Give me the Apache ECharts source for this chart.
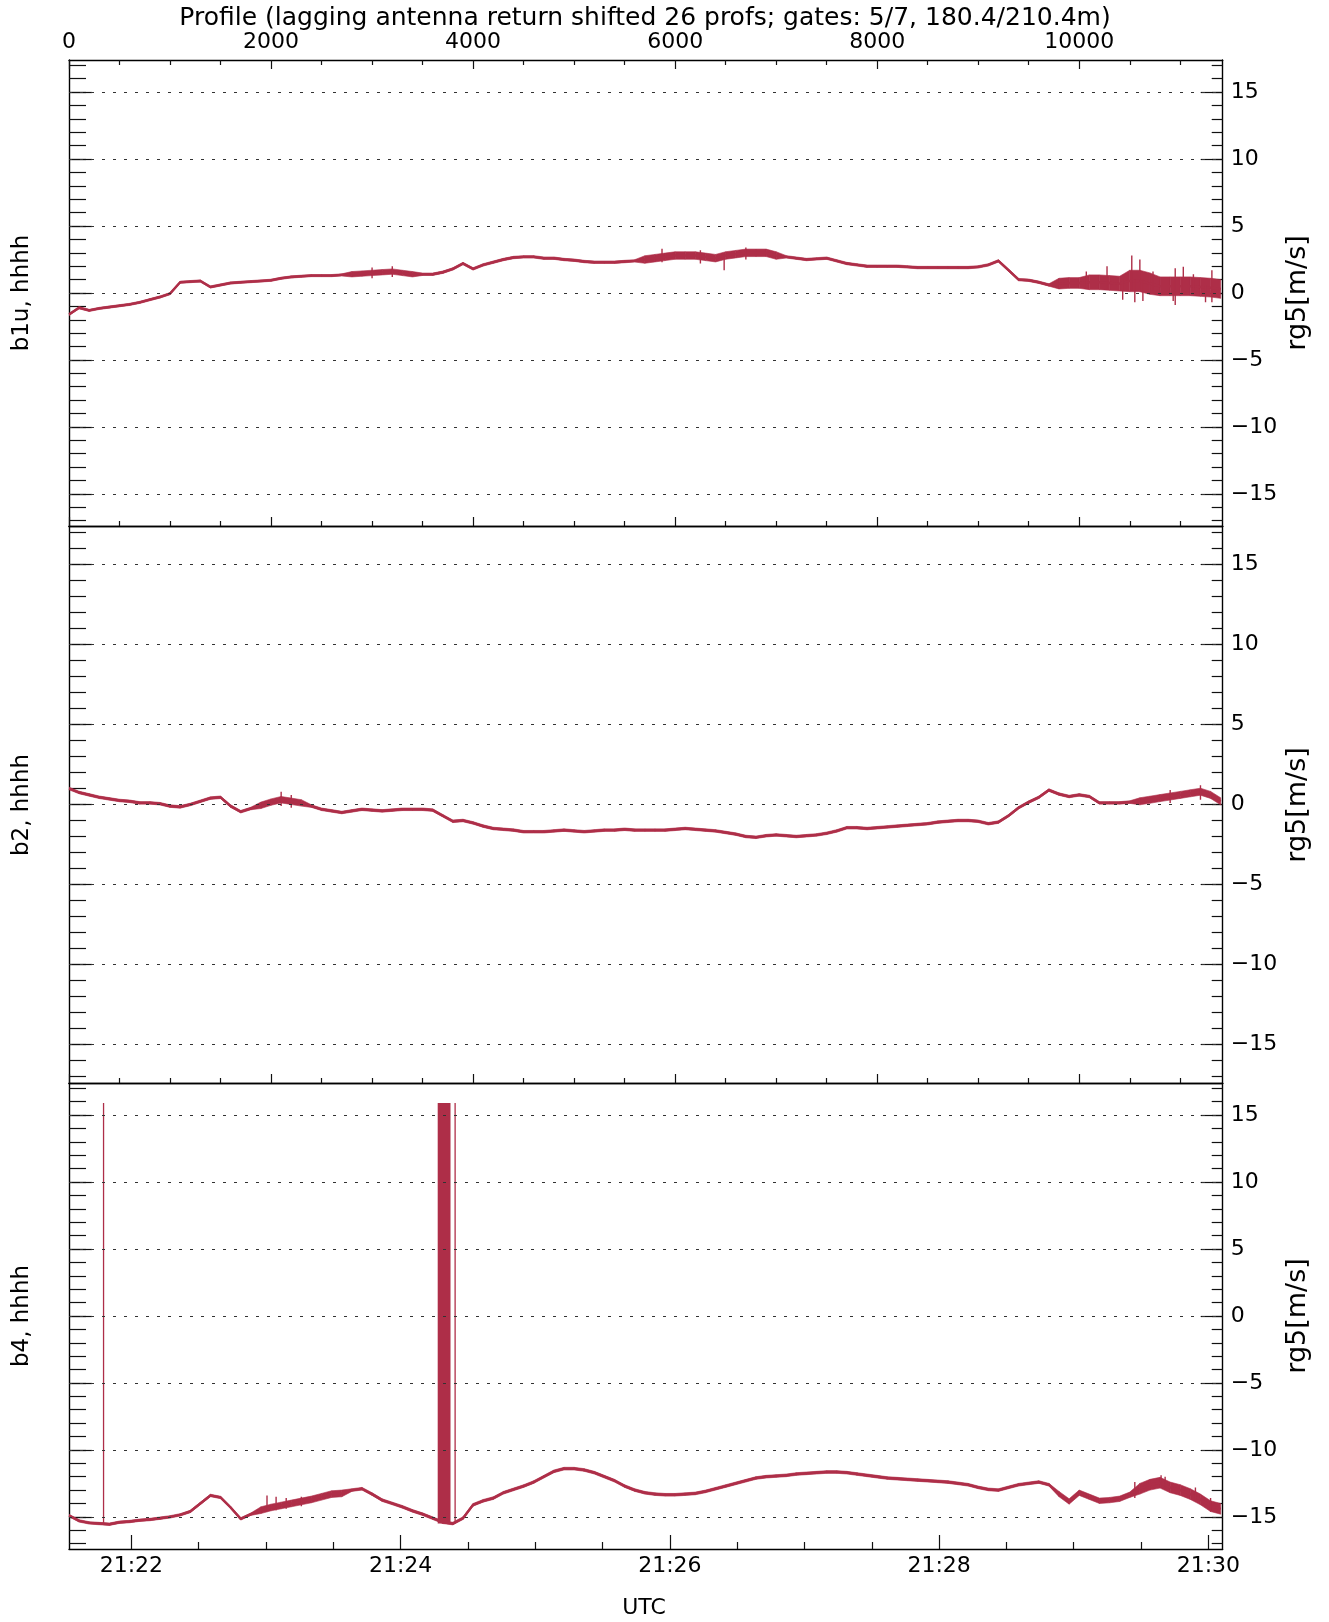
<!DOCTYPE html>
<html><head><meta charset="utf-8">
<script src="https://cdn.jsdelivr.net/npm/echarts@6/dist/echarts.min.js"></script>
<style>html,body{margin:0;padding:0;background:#fff}#c{width:1329px;height:1622px}</style>
</head><body><div id="c"></div>
<script>
const profileStep = 100;
const b1uMid = [
 -1.6,-1.1,-1.3,-1.15,-1.05,-0.95,-0.85,-0.7,-0.5,-0.3,
 -0.05,0.8,0.85,0.9,0.45,0.6,0.75,0.8,0.85,0.9,
 0.95,1.1,1.2,1.25,1.3,1.3,1.3,1.35,1.4,1.45,
 1.5,1.55,1.6,1.5,1.4,1.4,1.4,1.55,1.8,2.2,
 1.8,2.1,2.3,2.5,2.65,2.7,2.7,2.6,2.6,2.5,
 2.45,2.35,2.3,2.3,2.3,2.35,2.4,2.5,2.6,2.7,
 2.8,2.8,2.8,2.7,2.6,2.8,2.9,3.0,3.0,3.0,
 2.8,2.7,2.6,2.5,2.55,2.6,2.4,2.2,2.1,2.0,
 2.0,2.0,2.0,1.95,1.9,1.9,1.9,1.9,1.9,1.9,
 1.95,2.1,2.4,1.7,1.0,0.95,0.8,0.6,0.7,0.75,
 0.75,0.8,0.8,0.75,0.7,0.9,0.9,0.7,0.5,0.5,
 0.5,0.5,0.45,0.4,0.3];
const b2Mid = [
 1.0,0.75,0.6,0.45,0.35,0.25,0.2,0.1,0.1,0.05,
 -0.1,-0.15,0.0,0.2,0.4,0.45,-0.1,-0.45,-0.25,-0.05,
 0.15,0.3,0.2,0.1,-0.1,-0.3,-0.4,-0.5,-0.4,-0.3,
 -0.35,-0.4,-0.35,-0.3,-0.3,-0.3,-0.35,-0.7,-1.05,-1.0,
 -1.15,-1.35,-1.5,-1.55,-1.6,-1.7,-1.7,-1.7,-1.65,-1.6,
 -1.65,-1.7,-1.65,-1.6,-1.6,-1.55,-1.6,-1.6,-1.6,-1.6,
 -1.55,-1.5,-1.55,-1.6,-1.65,-1.75,-1.85,-2.0,-2.05,-1.95,
 -1.9,-1.95,-2.0,-1.95,-1.9,-1.8,-1.65,-1.45,-1.45,-1.5,
 -1.45,-1.4,-1.35,-1.3,-1.25,-1.2,-1.1,-1.05,-1.0,-1.0,
 -1.05,-1.2,-1.1,-0.7,-0.2,0.15,0.45,0.9,0.65,0.5,
 0.6,0.5,0.1,0.1,0.1,0.15,0.2,0.3,0.4,0.5,
 0.6,0.7,0.8,0.6,0.2];
const b4Mid = [
 -14.9,-15.3,-15.45,-15.5,-15.55,-15.4,-15.35,-15.25,-15.2,-15.1,
 -15.0,-14.85,-14.6,-14.0,-13.4,-13.55,-14.3,-15.15,-14.8,-14.5,
 -14.3,-14.15,-14.0,-13.85,-13.7,-13.5,-13.3,-13.25,-13.0,-12.9,
 -13.3,-13.75,-14.0,-14.25,-14.55,-14.8,-15.1,-15.4,-15.5,-15.1,
 -14.1,-13.8,-13.6,-13.2,-12.95,-12.7,-12.4,-12.0,-11.6,-11.4,
 -11.4,-11.5,-11.7,-12.0,-12.3,-12.7,-13.0,-13.2,-13.3,-13.35,
 -13.35,-13.3,-13.25,-13.1,-12.9,-12.7,-12.5,-12.3,-12.1,-12.0,
 -11.95,-11.9,-11.8,-11.75,-11.7,-11.65,-11.65,-11.7,-11.8,-11.9,
 -12.0,-12.1,-12.15,-12.2,-12.25,-12.3,-12.35,-12.4,-12.5,-12.6,
 -12.8,-12.95,-13.0,-12.8,-12.6,-12.5,-12.4,-12.6,-13.3,-13.85,
 -13.2,-13.5,-13.8,-13.75,-13.65,-13.35,-12.9,-12.6,-12.45,-12.8,
 -13.0,-13.3,-13.7,-14.2,-14.4];
// half-width of the noise band: [fromProfile, toProfile, halfWidth m/s]
const b1uNoise = [[0,2700,0.08],[2800,3400,0.2],[3500,5600,0.09],[5700,7000,0.28],[7100,9700,0.09],[9800,10000,0.4],[10100,10400,0.55],[10500,10700,0.8],[10800,11400,0.7]];
const b2Noise  = [[0,1800,0.08],[1900,2300,0.2],[2400,10500,0.08],[10600,11400,0.22]];
const b4Noise  = [[0,1800,0.09],[1900,2700,0.25],[2800,9700,0.1],[9800,10500,0.2],[10600,11400,0.4]];
// isolated noise excursions: [profile, low, high]
const b1uSpikes = [[3000,1.1,1.9],[3200,1.2,2.0],[5870,2.3,3.3],[6250,2.2,3.2],[6485,1.7,2.9],[6700,2.5,3.4],
  [10070,0.3,1.6],[10275,0.3,2.0],[10430,-0.5,1.0],[10520,0.2,2.8],[10550,-0.7,1.0],[10600,0.2,2.5],[10630,-0.6,1.0],
  [10730,0.2,1.6],[10930,-0.6,0.9],[10950,-0.9,1.84],[11030,0.2,1.96],[11130,0.2,1.4],[11250,-0.7,0.6],[11313,-0.7,1.7]];
const b2Spikes  = [[2100,-0.1,0.8],[2200,-0.2,0.6],[10900,0.1,0.9],[11200,0.3,1.2]];
const b4Spikes  = [[1960,-14.6,-13.4],[2050,-14.5,-13.5],[2150,-14.4,-13.6],[2300,-14.2,-13.5],
  [10550,-13.6,-12.4],[10810,-12.8,-11.9],[10850,-12.9,-12.0],[11150,-13.8,-12.8],[11300,-14.6,-13.6]];
// b4 outliers (profile indices of the spikes) and their extent
const b4SpikeProfiles = [342,3656,3659,3662,3665,3668,3671,3674,3677,3680,3683,3686,3689,3695,3698,3701,3704,3707,3710,3713,3716,3719,3722,3725,3728,3731,3734,3737,3740,3743,3746,3749,3752,3755,3758,3761,3764,3767,3770,3822];
const b4SpikeTop = 15.9, b4SpikeBase = -15.5;

const panelNames = ['b1u, hhhh','b2, hhhh','b4, hhhh'];
const titleText = 'Profile (lagging antenna return shifted 26 profs; gates: 5/7, 180.4/210.4m)';
const profileMax = 11420;
const profileTicks = [0,2000,4000,6000,8000,10000];
const profileMinorTicks = [500,1000,1500,2500,3000,3500,4500,5000,5500,6500,7000,7500,8500,9000,9500,10500,11000];
const timeMin = 1292.2, timeMax = 1806.4;             // seconds after 21:00 UTC
const timeTicks = [1320,1440,1560,1680,1800];
const timeMinorTicks = [1350,1380,1410,1470,1500,1530,1590,1620,1650,1710,1740,1770];
const yLabelTicks = [-15,-10,-5,0,5,10,15];
const yMinorTicks = [-17,-16,-15,-14,-13,-12,-11,-10,-9,-8,-7,-6,-5,-4,-3,-2,-1,0,1,2,3,4,5,6,7,8,9,10,11,12,13,14,15,16,17];
const yMin = -17.4, yMax = 17.4;

// ---- build ----
const FONT = 'DejaVu Sans';
const RED = '#AE2E48';
function halfAt(noise, p){ for (const r of noise) if (p>=r[0] && p<=r[1]) return r[2]; return 0.08; }
const grids = [{top:60,height:466},{top:526,height:557},{top:1083,height:466}];
const xAxes = [], yAxes = [], series = [];
const axisLine = {show:true, onZero:false, lineStyle:{color:'#000', width:1.4}};
const tickStyle = {color:'#111', width:1.2};
const noLine = {show:false, onZero:false};
function xBase(gi, pos, extra){
  return Object.assign({gridIndex:gi, type:'value', position:pos, min:0, max:profileMax,
    axisLine:noLine, axisTick:{show:false}, axisLabel:{show:false}, splitLine:{show:false}, minorTick:{show:false}}, extra);
}
const dataX = [];
grids.forEach((g,gi)=>{
  dataX[gi] = xAxes.length;
  if (gi===0){
    xAxes.push(xBase(gi,'top',{axisLine:axisLine,
      axisTick:{show:true,inside:true,length:9,customValues:profileTicks,lineStyle:tickStyle},
      axisLabel:{show:true,customValues:profileTicks,margin:7,fontSize:22,fontFamily:FONT,color:'#000',formatter:v=>String(v)}}));
    xAxes.push(xBase(gi,'top',{axisTick:{show:true,inside:true,length:5,customValues:profileMinorTicks,lineStyle:tickStyle}}));
  } else {
    xAxes.push(xBase(gi,'top',{axisLine:axisLine}));
  }
  if (gi<2){
    xAxes.push(xBase(gi,'bottom',{axisLine:axisLine,
      axisTick:{show:true,inside:true,length:9,customValues:profileTicks,lineStyle:tickStyle}}));
    xAxes.push(xBase(gi,'bottom',{axisTick:{show:true,inside:true,length:5,customValues:profileMinorTicks,lineStyle:tickStyle}}));
  } else {
    xAxes.push(xBase(gi,'bottom',{min:timeMin,max:timeMax,axisLine:axisLine,
      axisTick:{show:true,inside:true,length:14,customValues:timeTicks,lineStyle:tickStyle},
      axisLabel:{show:true,customValues:timeTicks,margin:6,fontSize:22,fontFamily:FONT,color:'#000',
        formatter:v=>'21:'+String(Math.round(v/60)%60).padStart(2,'0')}}));
    xAxes.push(xBase(gi,'bottom',{min:timeMin,max:timeMax,
      axisTick:{show:true,inside:true,length:7,customValues:timeMinorTicks,lineStyle:tickStyle}}));
  }
  const yb = (pos, extra)=>Object.assign({gridIndex:gi,type:'value',position:pos,min:yMin,max:yMax,
    axisLine:noLine,axisTick:{show:false},axisLabel:{show:false},splitLine:{show:false}},extra);
  const yi = yAxes.length;
  yAxes.push(yb('left',{axisLine:axisLine,axisTick:{show:true,inside:true,length:17,customValues:yMinorTicks,lineStyle:tickStyle}}));
  yAxes.push(yb('left',{axisTick:{show:true,inside:true,length:23,customValues:yLabelTicks,lineStyle:tickStyle}}));
  yAxes.push(yb('right',{axisLine:axisLine,axisTick:{show:true,inside:true,length:11,customValues:yMinorTicks,lineStyle:tickStyle},
    axisLabel:{show:true,customValues:yLabelTicks,margin:8,fontSize:22,fontFamily:FONT,color:'#000',
      formatter:v=> v<0 ? '\u2212'+Math.abs(v) : String(v)}}));
  yAxes.push(yb('right',{axisTick:{show:true,inside:true,length:22,customValues:yLabelTicks,lineStyle:tickStyle}}));
  g.yi = yi;
});
const mids = [b1uMid,b2Mid,b4Mid], noises = [b1uNoise,b2Noise,b4Noise], spikes = [b1uSpikes,b2Spikes,b4Spikes];
function bandItem(params, api){
  const p0 = api.value(0), p1 = api.value(3);
  const pts = [api.coord([p0, api.value(1)]), api.coord([p0, api.value(2)]),
               api.coord([p1, api.value(5)]), api.coord([p1, api.value(4)])];
  return {type:'polygon', shape:{points:pts}, style:{fill:RED, stroke:RED, lineWidth:0.6}};
}
grids.forEach((g,gi)=>{
  const mid = mids[gi], noise = noises[gi];
  const band = [];
  for (let i=0;i<mid.length-1;i++){
    const p0=i*profileStep, p1=(i+1)*profileStep, h0=halfAt(noise,p0), h1=halfAt(noise,p1);
    band.push([p0, mid[i]-h0, mid[i]+h0, p1, mid[i+1]-h1, mid[i+1]+h1]);
  }
  series.push({type:'custom', xAxisIndex:dataX[gi], yAxisIndex:g.yi, data:band, renderItem:bandItem,
    encode:{x:[0,3], y:[1,2,4,5]}, clip:true, silent:true, z:3,
    markLine:{silent:true,symbol:['none','none'],label:{show:false},animation:false,
      lineStyle:{color:'#333',type:[3,8],width:1.2}, data:yLabelTicks.map(v=>({yAxis:v}))}});
  series.push({type:'line', xAxisIndex:dataX[gi], yAxisIndex:g.yi, data:mid.map((v,i)=>[i*profileStep,v]),
    symbol:'none', lineStyle:{color:RED,width:2.4}, silent:true, z:4});
  const sd = [];
  spikes[gi].forEach(s=>{ sd.push([s[0],s[1]],[s[0],s[2]],[s[0],'-']); });
  series.push({type:'line', xAxisIndex:dataX[gi], yAxisIndex:g.yi, data:sd, symbol:'none',
    connectNulls:false, lineStyle:{color:RED,width:1.4}, silent:true, z:4});
});
const spikeData = [];
b4SpikeProfiles.forEach(p=>{ spikeData.push([p,b4SpikeBase],[p,b4SpikeTop],[p,'-']); });
series.push({type:'line', xAxisIndex:dataX[2], yAxisIndex:grids[2].yi, data:spikeData, symbol:'none',
  connectNulls:false, lineStyle:{color:RED,width:1.3}, silent:true, z:4});

const graphics = [
  {type:'text', x:645, y:18, style:{text:titleText, fontSize:25, fontFamily:FONT, fill:'#000', align:'center', verticalAlign:'middle'}},
  {type:'text', x:644, y:1608, style:{text:'UTC', fontSize:22, fontFamily:FONT, fill:'#000', align:'center', verticalAlign:'middle'}}
];
const centers = [293, 805, 1316];
centers.forEach((cy,i)=>{
  graphics.push({type:'text', x:22, y:cy, rotation:Math.PI/2, style:{text:panelNames[i], fontSize:23, fontFamily:FONT, fill:'#000', align:'center', verticalAlign:'middle'}});
  graphics.push({type:'text', x:1298, y:cy, rotation:Math.PI/2, style:{text:'rg5[m/s]', fontSize:27, fontFamily:FONT, fill:'#000', align:'center', verticalAlign:'middle'}});
});

const chart = echarts.init(document.getElementById('c'), null, {renderer:'canvas'});
chart.setOption({
  animation:false, backgroundColor:'#fff',
  grid: grids.map(g=>({left:69, right:106.3, top:g.top, height:g.height, containLabel:false})),
  xAxis: xAxes, yAxis: yAxes, series: series, graphic: graphics
});
</script></body></html>
